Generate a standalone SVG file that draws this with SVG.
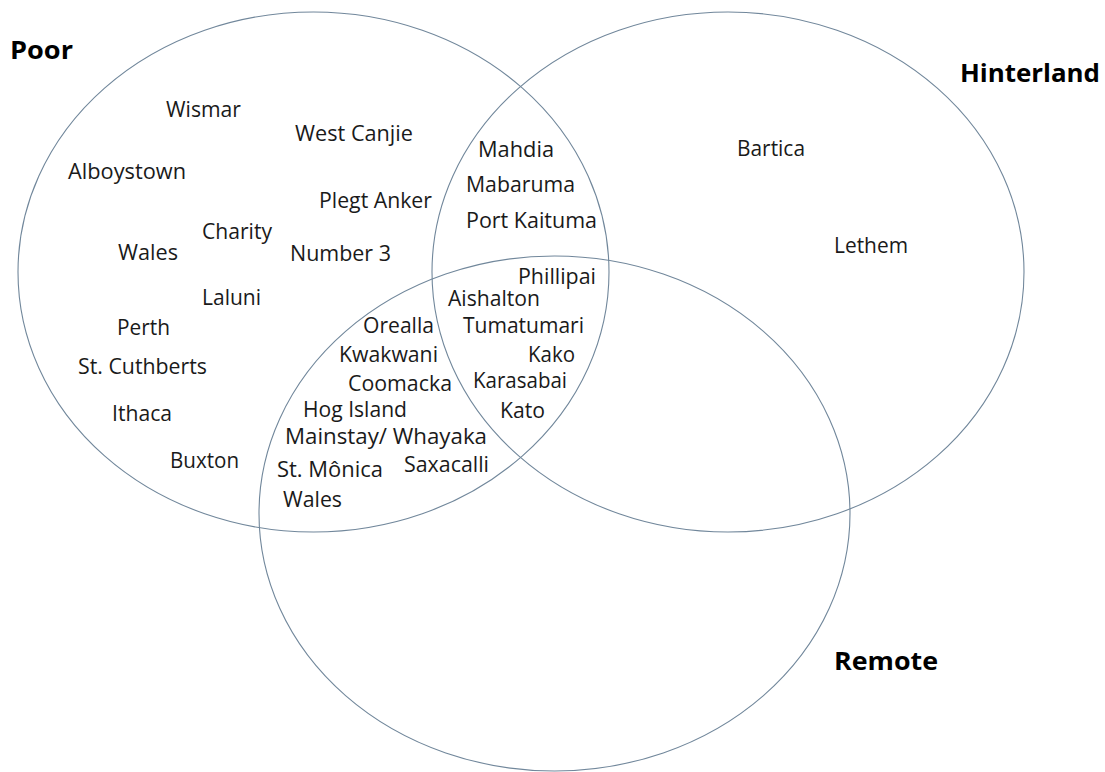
<svg xmlns="http://www.w3.org/2000/svg" width="1105" height="772" viewBox="0 0 1105 772">
<style>
.set{fill:none;stroke:#71879b;stroke-width:1.1}
.t{font-family:"Open Sans","Liberation Sans",sans-serif;font-size:21px;fill:#1a1a1a}
.h{font-family:"Open Sans","Liberation Sans",sans-serif;font-size:25px;font-weight:bold;fill:#000}
</style>
<rect width="1105" height="772" fill="#fff"/>
<g id="sets">
<ellipse id="poor-set" class="set" cx="313.5" cy="272" rx="295.5" ry="260"/>
<ellipse id="hinterland-set" class="set" cx="728" cy="272" rx="296" ry="260"/>
<ellipse id="remote-set" class="set" cx="554.5" cy="513.5" rx="295.5" ry="257.5"/>
</g>
<g id="titles">
<text class="h" x="10" y="59" textLength="63" lengthAdjust="spacingAndGlyphs">Poor</text>
<text class="h" x="960" y="82" textLength="140" lengthAdjust="spacingAndGlyphs">Hinterland</text>
<text class="h" x="834" y="670" textLength="104" lengthAdjust="spacingAndGlyphs">Remote</text>
</g>
<g id="poor-only">
<text class="t" x="166" y="117" textLength="75" lengthAdjust="spacingAndGlyphs">Wismar</text>
<text class="t" x="295" y="141" textLength="118" lengthAdjust="spacingAndGlyphs">West Canjie</text>
<text class="t" x="68" y="179" textLength="118" lengthAdjust="spacingAndGlyphs">Alboystown</text>
<text class="t" x="319" y="208" textLength="113" lengthAdjust="spacingAndGlyphs">Plegt Anker</text>
<text class="t" x="202" y="239" textLength="70" lengthAdjust="spacingAndGlyphs">Charity</text>
<text class="t" x="118" y="260" textLength="60" lengthAdjust="spacingAndGlyphs">Wales</text>
<text class="t" x="290" y="261" textLength="101" lengthAdjust="spacingAndGlyphs">Number 3</text>
<text class="t" x="202" y="305" textLength="59" lengthAdjust="spacingAndGlyphs">Laluni</text>
<text class="t" x="117" y="335" textLength="53" lengthAdjust="spacingAndGlyphs">Perth</text>
<text class="t" x="78" y="374" textLength="129" lengthAdjust="spacingAndGlyphs">St. Cuthberts</text>
<text class="t" x="112" y="421" textLength="60" lengthAdjust="spacingAndGlyphs">Ithaca</text>
<text class="t" x="170" y="468" textLength="69" lengthAdjust="spacingAndGlyphs">Buxton</text>
</g>
<g id="poor-hinterland">
<text class="t" x="478" y="157" textLength="76" lengthAdjust="spacingAndGlyphs">Mahdia</text>
<text class="t" x="466" y="192" textLength="109" lengthAdjust="spacingAndGlyphs">Mabaruma</text>
<text class="t" x="466" y="228" textLength="131" lengthAdjust="spacingAndGlyphs">Port Kaituma</text>
</g>
<g id="hinterland-only">
<text class="t" x="737" y="156" textLength="68" lengthAdjust="spacingAndGlyphs">Bartica</text>
<text class="t" x="834" y="253" textLength="74" lengthAdjust="spacingAndGlyphs">Lethem</text>
</g>
<g id="all-three">
<text class="t" x="518" y="284" textLength="78" lengthAdjust="spacingAndGlyphs">Phillipai</text>
<text class="t" x="448" y="306" textLength="92" lengthAdjust="spacingAndGlyphs">Aishalton</text>
<text class="t" x="463" y="333" textLength="121" lengthAdjust="spacingAndGlyphs">Tumatumari</text>
<text class="t" x="528" y="362" textLength="47" lengthAdjust="spacingAndGlyphs">Kako</text>
<text class="t" x="473" y="388" textLength="94" lengthAdjust="spacingAndGlyphs">Karasabai</text>
<text class="t" x="500" y="418" textLength="45" lengthAdjust="spacingAndGlyphs">Kato</text>
</g>
<g id="poor-remote">
<text class="t" x="363" y="333" textLength="71" lengthAdjust="spacingAndGlyphs">Orealla</text>
<text class="t" x="339" y="362" textLength="99" lengthAdjust="spacingAndGlyphs">Kwakwani</text>
<text class="t" x="348" y="391" textLength="104" lengthAdjust="spacingAndGlyphs">Coomacka</text>
<text class="t" x="303" y="417" textLength="104" lengthAdjust="spacingAndGlyphs">Hog Island</text>
<text class="t" x="285" y="444" textLength="202" lengthAdjust="spacingAndGlyphs">Mainstay/ Whayaka</text>
<text class="t" x="404" y="472" textLength="85" lengthAdjust="spacingAndGlyphs">Saxacalli</text>
<text class="t" x="277" y="477" textLength="106" lengthAdjust="spacingAndGlyphs">St. Mônica</text>
<text class="t" x="283" y="507" textLength="59" lengthAdjust="spacingAndGlyphs">Wales</text>
</g>
</svg>
